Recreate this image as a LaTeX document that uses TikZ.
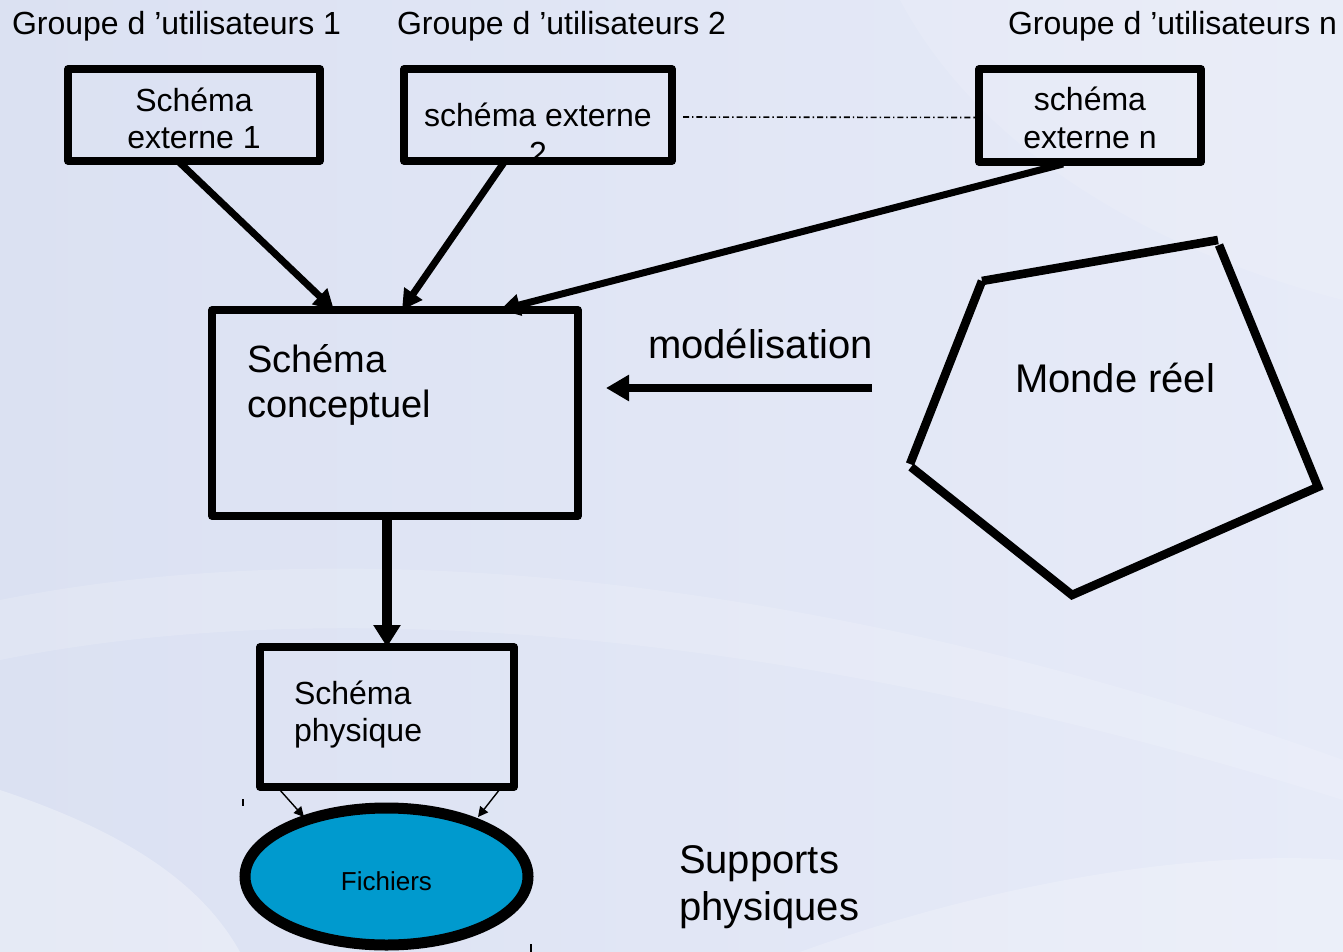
\documentclass[tikz,border=0pt]{standalone}
\usepackage{fontspec}
\setmainfont{Liberation Sans}
\usetikzlibrary{arrows.meta,calc,shapes.geometric}
\definecolor{bgL}{RGB}{219,225,242}
\definecolor{bgR}{RGB}{231,235,248}
\definecolor{fichcol}{RGB}{0,154,206}
\newcommand\szA{\fontsize{16}{18.5}\selectfont}
\newcommand\szB{\fontsize{19}{22}\selectfont}
\newcommand\szC{\fontsize{20}{24}\selectfont}
\newcommand\szD{\fontsize{13}{15}\selectfont}
\begin{document}
\begin{tikzpicture}[x=0.5pt,y=-0.5pt,
  txt/.style={inner sep=0pt,outer sep=0pt,anchor=base west},
  ctxt/.style={inner sep=0pt,outer sep=0pt,anchor=base},
  box/.style={draw,rectangle,line width=3.8pt,line join=round,inner sep=0pt,outer sep=0pt},
  arr/.style={line width=3.5pt,-{Triangle[length=10pt,width=10.5pt]}},
  finearr/.style={line width=0.7pt,-{Triangle[length=5pt,width=5pt]}},
  pent/.style={line width=4.3pt}]
\useasboundingbox (0,0) rectangle (1343,952);
% background
\shade[left color=bgL,right color=bgR] (0,0) rectangle (1343,952);
\fill[white,opacity=0.15] (0,600) .. controls (400,520) and (900,600) .. (1343,760) -- (1343,800) .. controls (900,660) and (400,580) .. (0,660) -- cycle;
\fill[white,opacity=0.3] (0,790) .. controls (120,830) and (200,880) .. (240,952) -- (0,952) -- cycle;
\fill[white,opacity=0.12] (900,0) .. controls (980,150) and (1150,250) .. (1343,300) -- (1343,0) -- cycle;
\fill[white,opacity=0.2] (800,952) .. controls (1000,880) and (1200,850) .. (1343,860) -- (1343,952) -- cycle;
% top labels
\node[txt,font=\szA] (g1) at (12,35) {Groupe d ’utilisateurs 1};
\node[txt,font=\szA] (g2) at (397,35) {Groupe d ’utilisateurs 2};
\node[txt,font=\szA] (gn) at (1008,35) {Groupe d ’utilisateurs n};
% box texts
\node[ctxt,font=\szA] (t1a) at (194,112) {Schéma};
\node[ctxt,font=\szA] (t1b) at (194,149) {externe 1};
\node[ctxt,font=\szA] (t2a) at (538,127) {schéma externe};
\node[ctxt,font=\szA] (t2b) at (538,165) {2};
\node[ctxt,font=\szA] (tna) at (1090,111) {schéma};
\node[ctxt,font=\szA] (tnb) at (1090,149) {externe n};
\node[txt,font=\szB] (tca) at (247,372) {Schéma};
\node[txt,font=\szB] (tcb) at (247,417) {conceptuel};
\node[txt,font=\szA] (tpa) at (294,704) {Schéma};
\node[txt,font=\szA] (tpb) at (294,741) {physique};
\node[txt,font=\szC] (mod) at (648,358) {modélisation};
\node[txt,font=\szC] (monde) at (1015,392) {Monde réel};
\node[txt,font=\szC] (sup1) at (679,873) {Supports};
\node[txt,font=\szC] (sup2) at (679,920) {physiques};
% boxes
\node[box,minimum width=126pt,minimum height=46pt] (ext1) at (194,115) {};
\node[box,minimum width=134pt,minimum height=46pt] (ext2) at (538,115) {};
\node[box,minimum width=111pt,minimum height=46.5pt] (extn) at (1090,115.5) {};
\node[box,minimum width=183pt,minimum height=103pt] (concept) at (395,413) {};
\node[box,minimum width=127pt,minimum height=70pt] (phys) at (387,717) {};
\node[ellipse,draw,line width=5.5pt,fill=fichcol,minimum width=141.5pt,minimum height=68.5pt,inner sep=0pt,outer sep=0pt,font=\szD,text depth=0pt,text height=13.5pt] (fich) at (386.5,876.5) {Fichiers};
% dash-dot link
\draw[line width=0.8pt,dash pattern=on 3pt off 1.5pt on 0.7pt off 1.5pt,shorten <=5.5pt,shorten >=2pt] ($(ext2.east)+(0,2)$) -- ($(extn.west)+(0,2)$);
% arrows
\draw[arr] ($(ext1.south)+(-16,0)$) -- ($(concept.north)+(-61,0)$);
\draw[arr] ($(ext2.south)+(-33,0)$) -- ($(concept.north)+(7,0)$);
\draw[arr] ($(extn.south)+(-27,2)$) -- ($(concept.north)+(105,0)$);
\coordinate (mA) at (872,388);
\coordinate (mB) at (606,388);
\draw[line width=4pt,-{Triangle[length=11.5pt,width=12.5pt]}] (mA) -- (mB);
\draw[line width=5pt,-{Triangle[length=11pt,width=13pt]}] ($(concept.south)+(-8,0)$) -- (phys.north);
\draw[finearr] ($(phys.south)+(-108,2)$) -- ($(fich.north)+(-82.5,9)$);
\draw[finearr] ($(phys.south)+(113,2)$) -- ($(fich.north)+(91.5,9)$);
% small ticks
\draw[line width=0.6pt] (243,799) -- (243,806);
\draw[line width=0.6pt] (531,944) -- (531,952);
% pentagon (Monde reel)
\coordinate (P1) at (982,281);
\coordinate (P2) at (1218,240);
\coordinate (P3) at (1318,487);
\coordinate (P4) at (1072,595);
\coordinate (P5) at (911,467);
\draw[pent] (P1) -- (P2);
\draw[pent,line join=miter] ($(P2)+(1,5)$) -- (P3) -- (P4) -- (P5);
\draw[pent] ($(P5)+(-1,-3)$) -- (P1);
\end{tikzpicture}
\end{document}
